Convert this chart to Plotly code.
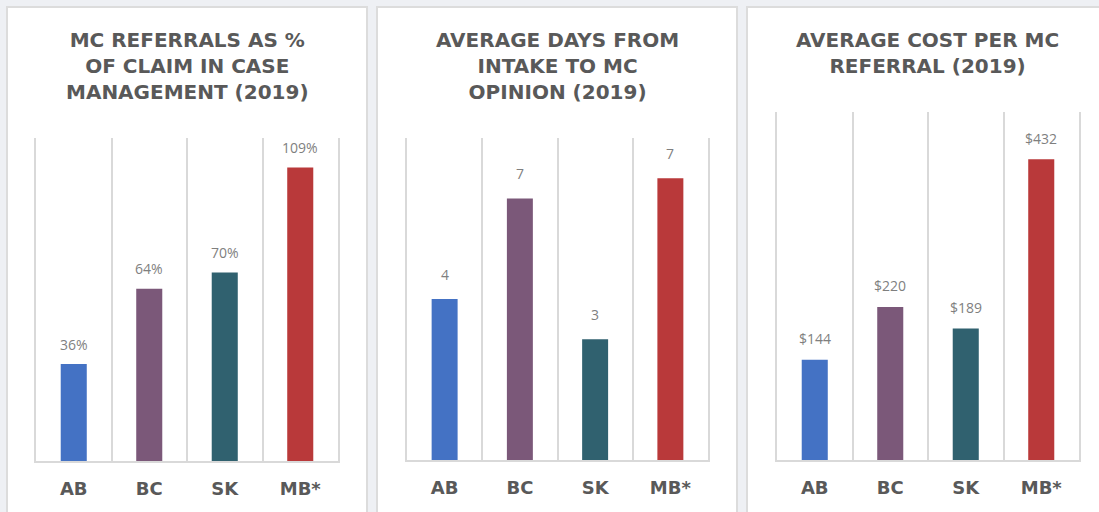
import plotly.graph_objects as go
import math

# ---- data ----
categories = ["AB", "BC", "SK", "MB*"]
referral_pct = [36, 64, 70, 109]          # MC referrals as % of claims in case management
days_to_opinion = [4.0, 6.5, 3.0, 7.0]    # average days from intake to MC opinion
cost_per_referral = [144, 220, 189, 432]  # average cost per MC referral ($)
bar_colors = ["#4472C4", "#7B5879", "#30616F", "#B9393A"]

titles = [
    "MC REFERRALS AS %<br>OF CLAIM IN CASE<br>MANAGEMENT (2019)",
    "AVERAGE DAYS FROM<br>INTAKE TO MC<br>OPINION (2019)",
    "AVERAGE COST PER MC<br>REFERRAL (2019)",
]

W, H = 1099, 512


def px_x(p):
    return p / W


def px_y(p):
    return 1 - p / H


panels = [
    dict(vals=referral_pct, labels=[f"{v}%" for v in referral_pct], yrange=[0, 120],
         box=(7, 367), plot=(36, 338, 138, 461), title_c=66.3, shift=20),
    dict(vals=days_to_opinion, labels=[str(int(math.floor(v + 0.5))) for v in days_to_opinion],
         yrange=[0, 8], box=(377, 737), plot=(407, 708, 138, 460), title_c=66.3, shift=25),
    dict(vals=cost_per_referral, labels=[f"${v}" for v in cost_per_referral], yrange=[0, 500],
         box=(747, 1107), plot=(777, 1079, 112, 460), title_c=53, shift=21),
]

fig = go.Figure()
shapes = []
annotations = []
grid_col = "#D9D9D9"
title_col = "#595959"

for i, p in enumerate(panels):
    n = "" if i == 0 else str(i + 1)
    xa, ya = "x" + n, "y" + n
    fig.add_trace(go.Bar(
        x=categories, y=p["vals"], marker=dict(color=bar_colors, line=dict(width=0)),
        width=0.345, xaxis=xa, yaxis=ya, showlegend=False, hoverinfo="skip",
    ))
    x0, x1, y0, y1 = p["plot"]
    fig.update_layout(**{
        "xaxis" + n: dict(
            domain=[px_x(x0), px_x(x1)], anchor=ya, type="category",
            tickson="boundaries", showgrid=True, gridcolor=grid_col, gridwidth=1.5,
            showline=True, linecolor=grid_col, linewidth=2, ticks="",
            tickfont=dict(family="DejaVu Sans", size=18, color=title_col, weight="bold"),
            ticklabelstandoff=10, fixedrange=True,
        ),
        "yaxis" + n: dict(
            domain=[px_y(y1), px_y(y0)], anchor=xa, range=p["yrange"],
            showticklabels=False, showgrid=False, zeroline=False,
            showline=True, mirror=True, linecolor=grid_col, linewidth=1.5,
            ticks="", fixedrange=True,
        ),
    })
    bx0, bx1 = p["box"]
    shapes.append(dict(type="rect", xref="paper", yref="paper",
                       x0=px_x(bx0), x1=px_x(bx1), y0=px_y(7), y1=px_y(560),
                       fillcolor="white", line=dict(color="#DCDCDC", width=2),
                       layer="below"))
    annotations.append(dict(
        xref="paper", yref="paper", x=px_x((bx0 + bx1) / 2), y=px_y(p["title_c"]),
        xanchor="center", yanchor="middle", text=titles[i], showarrow=False,
        font=dict(family="DejaVu Sans", size=20, color=title_col, weight="bold"),
        align="center",
    ))
    for c, v, lab in zip(categories, p["vals"], p["labels"]):
        annotations.append(dict(
            xref=xa, yref=ya, x=c, y=v, text=lab, showarrow=False,
            xanchor="center", yanchor="middle", yshift=p["shift"],
            font=dict(family="Open Sans", size=14, color="#7F7F7F"),
        ))

fig.update_layout(
    width=W, height=H, margin=dict(l=0, r=0, t=0, b=0),
    paper_bgcolor="#EEF0F4", plot_bgcolor="rgba(0,0,0,0)",
    shapes=shapes, annotations=annotations, showlegend=False,
)

fig.write_html("out.html", config={"displayModeBar": False})
